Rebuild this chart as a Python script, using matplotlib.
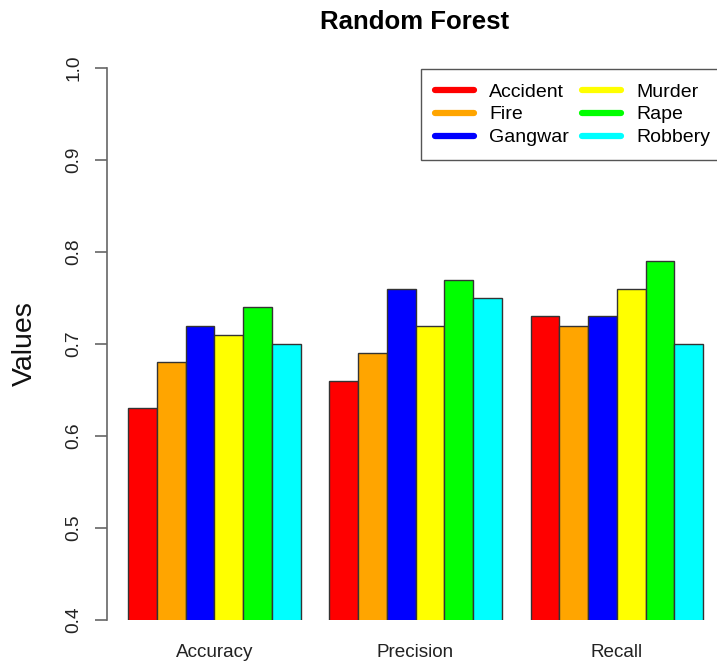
import numpy as np
import matplotlib.pyplot as plt
from matplotlib.lines import Line2D

plt.rcParams['font.family'] = ['Liberation Sans', 'DejaVu Sans']

metrics = ['Accuracy', 'Precision', 'Recall']
crimes = ['Accident', 'Fire', 'Gangwar', 'Murder', 'Rape', 'Robbery']
colors = ['#FF0000', '#FFA500', '#0000FF', '#FFFF00', '#00FF00', '#00FFFF']

accident = [0.63, 0.66, 0.73]
fire = [0.68, 0.69, 0.72]
gangwar = [0.72, 0.76, 0.73]
murder = [0.71, 0.72, 0.76]
rape = [0.74, 0.77, 0.79]
robbery = [0.70, 0.75, 0.70]
series = [accident, fire, gangwar, murder, rape, robbery]

W, H = 717, 666
fig = plt.figure(figsize=(W / 100, H / 100), dpi=100)
# axes placed in pixel terms like the R device
ax = fig.add_axes([107 / W, (H - 620) / H, (W - 107) / W, 552 / H])

# R barplot(beside=TRUE) layout: width 1, space c(0,1)
n = len(crimes)
for j in range(len(metrics)):
    start = 1 + j * (n + 1)
    for i in range(n):
        ax.bar(start + i, series[i][j], bottom=0, width=1, align='edge',
               color=colors[i], edgecolor='#333333', linewidth=1.0)

ax.set_xlim(1 - 21 / 28.75, 1 - 21 / 28.75 + 610 / 28.75)
ax.set_ylim(0.4, 1.0)

centers = [1 + j * (n + 1) + n / 2 for j in range(len(metrics))]
ax.set_xticks(centers)
ax.set_xticklabels(metrics, fontsize=13.6, color='#222222')
ax.tick_params(axis='x', length=0, pad=17)

ax.set_yticks(np.arange(0.4, 1.01, 0.1))
ax.set_yticklabels(['%.1f' % v for v in np.arange(0.4, 1.01, 0.1)],
                   rotation=90, va='center', fontsize=13.8, color='#222222')
ax.tick_params(axis='y', length=8.6, width=1.2, color='#666666', pad=9)

for s in ['top', 'right', 'bottom']:
    ax.spines[s].set_visible(False)
ax.spines['left'].set_color('#666666')
ax.spines['left'].set_linewidth(1.2)
ax.spines['left'].set_bounds(0.4, 1.0)

ax.set_ylabel('Values', fontsize=20.5, color='#111111')
ax.yaxis.set_label_coords((38 - 107) / (W - 107), 0.5)
fig.text(415 / W, 1 - 22 / H, 'Random Forest', ha='center', va='center',
         fontsize=18.5, fontweight='bold')

handles = [Line2D([0], [0], color=c, lw=4.5, solid_capstyle='round') for c in colors]
leg = fig.legend(handles, crimes, ncol=2, loc='upper left',
                 bbox_to_anchor=(421 / W, 1 - 69 / H), fontsize=14,
                 frameon=True, fancybox=False, handlelength=2.0,
                 handletextpad=0.8, columnspacing=0.65, labelspacing=0.27,
                 borderpad=0.72, borderaxespad=0.0)
leg.get_frame().set_edgecolor('#555555')
leg.get_frame().set_linewidth(1.0)
leg.get_frame().set_alpha(1.0)

fig.savefig('out.png', dpi=100)
